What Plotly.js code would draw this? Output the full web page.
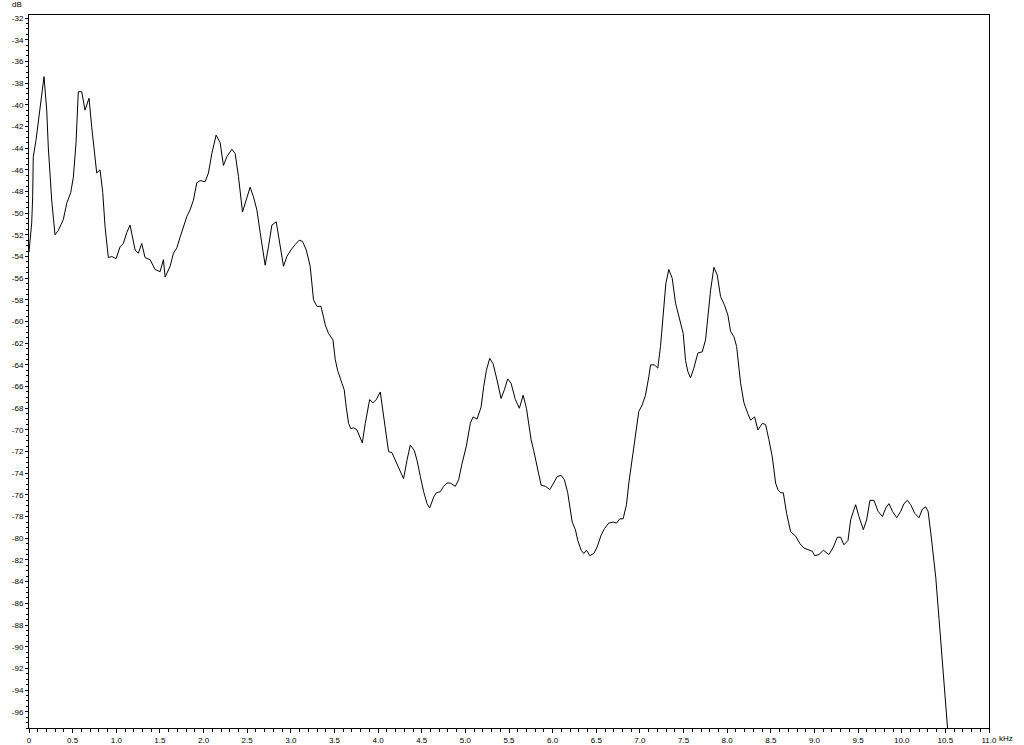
<!DOCTYPE html>
<html>
<head>
<meta charset="utf-8">
<script src="https://cdn.plot.ly/plotly-3.0.1.min.js"></script>
<style>html,body{margin:0;padding:0;background:#fff;}#chart{width:1024px;height:745px;}</style>
</head>
<body>
<div id="chart"></div>
<script>
const freqKHz = [0.000,0.031,0.042,0.049,0.080,0.107,0.134,0.172,0.203,0.221,0.260,0.298,0.336,0.393,0.432,0.478,0.508,0.539,0.565,0.604,0.642,0.688,0.719,0.757,0.776,0.814,0.845,0.872,0.909,0.948,0.998,1.044,1.081,1.120,1.158,1.216,1.253,1.292,1.330,1.388,1.445,1.502,1.540,1.560,1.617,1.655,1.694,1.732,1.769,1.809,1.846,1.884,1.923,1.961,2.018,2.056,2.095,2.144,2.190,2.228,2.267,2.325,2.362,2.400,2.446,2.489,2.534,2.572,2.611,2.649,2.706,2.744,2.783,2.833,2.870,2.916,2.955,3.001,3.050,3.096,3.134,3.177,3.222,3.241,3.260,3.299,3.345,3.375,3.394,3.432,3.483,3.509,3.536,3.586,3.612,3.635,3.662,3.689,3.719,3.758,3.788,3.819,3.853,3.903,3.942,3.979,4.025,4.063,4.094,4.120,4.159,4.217,4.292,4.331,4.369,4.415,4.446,4.484,4.522,4.561,4.591,4.637,4.667,4.713,4.751,4.790,4.828,4.885,4.923,4.962,5.011,5.057,5.088,5.134,5.180,5.210,5.241,5.279,5.318,5.363,5.409,5.447,5.485,5.524,5.573,5.619,5.662,5.700,5.726,5.753,5.783,5.829,5.868,5.917,5.967,6.012,6.052,6.097,6.135,6.173,6.204,6.224,6.261,6.288,6.327,6.357,6.388,6.426,6.472,6.510,6.556,6.594,6.643,6.694,6.732,6.769,6.808,6.846,6.873,6.912,6.950,6.987,7.026,7.064,7.102,7.122,7.167,7.205,7.236,7.267,7.297,7.331,7.370,7.408,7.446,7.496,7.523,7.549,7.580,7.618,7.664,7.714,7.752,7.779,7.810,7.848,7.886,7.924,7.970,8.008,8.039,8.077,8.108,8.154,8.192,8.237,8.268,8.314,8.352,8.403,8.440,8.478,8.517,8.555,8.581,8.612,8.643,8.681,8.727,8.784,8.834,8.880,8.937,8.976,9.002,9.052,9.102,9.148,9.166,9.217,9.262,9.300,9.338,9.384,9.415,9.446,9.472,9.510,9.560,9.598,9.636,9.682,9.728,9.779,9.817,9.854,9.893,9.943,9.989,10.026,10.065,10.103,10.149,10.198,10.237,10.275,10.302,10.333,10.363,10.390,10.428,10.456,10.485,10.524,10.545];
const levelDB = [-53.6,-50.9,-48.5,-44.8,-43.3,-41.4,-39.6,-37.4,-40.5,-43.9,-48.8,-52.0,-51.6,-50.6,-49.1,-48.1,-46.7,-43.5,-38.8,-38.8,-40.5,-39.4,-42.1,-44.8,-46.3,-46.0,-48.1,-51.3,-54.1,-54.0,-54.2,-53.1,-52.8,-51.8,-51.1,-53.4,-53.7,-52.8,-54.1,-54.3,-55.2,-55.4,-54.3,-55.9,-54.9,-53.7,-53.2,-52.2,-51.3,-50.3,-49.7,-48.8,-47.2,-47.0,-47.1,-46.3,-44.5,-42.8,-43.5,-45.6,-44.8,-44.1,-44.5,-46.6,-49.9,-48.8,-47.6,-48.5,-49.7,-51.8,-54.8,-53.1,-51.1,-50.8,-52.5,-54.9,-54.0,-53.4,-52.9,-52.5,-52.6,-53.4,-54.9,-56.8,-58.0,-58.6,-58.6,-59.6,-60.3,-61.1,-61.7,-63.5,-64.5,-65.7,-66.3,-67.9,-69.4,-69.9,-69.8,-70.0,-70.6,-71.2,-69.4,-67.2,-67.5,-67.2,-66.5,-68.6,-70.6,-72.0,-72.1,-73.2,-74.5,-72.8,-71.4,-71.9,-72.8,-74.3,-75.7,-76.8,-77.2,-76.2,-75.8,-75.7,-75.2,-74.9,-74.9,-75.2,-74.6,-73.1,-71.5,-69.4,-68.8,-69.0,-67.9,-66.0,-64.5,-63.4,-63.9,-65.4,-67.1,-66.3,-65.3,-65.7,-67.2,-68.0,-66.8,-68.0,-69.4,-70.9,-71.9,-73.7,-75.1,-75.2,-75.5,-74.9,-74.3,-74.2,-74.6,-75.8,-77.4,-78.5,-79.2,-80.2,-81.1,-81.4,-81.1,-81.6,-81.4,-80.8,-79.7,-79.1,-78.6,-78.5,-78.6,-78.2,-78.2,-76.9,-74.9,-72.5,-70.6,-68.3,-67.7,-66.8,-65.1,-64.0,-64.0,-64.3,-62.3,-58.9,-56.5,-55.2,-56.0,-58.3,-59.6,-61.1,-63.6,-64.6,-65.2,-64.3,-62.9,-62.8,-61.7,-59.6,-57.1,-55.0,-55.7,-57.7,-58.5,-59.4,-60.9,-61.4,-62.3,-65.7,-67.5,-68.5,-69.1,-68.8,-70.0,-69.4,-69.5,-70.9,-72.5,-74.9,-75.5,-75.8,-75.8,-77.7,-79.4,-79.8,-80.5,-80.9,-81.1,-81.2,-81.6,-81.5,-81.1,-81.4,-81.5,-80.8,-79.9,-79.9,-80.6,-80.2,-78.3,-77.5,-76.9,-78.0,-79.2,-78.3,-76.5,-76.5,-77.5,-78.0,-77.2,-76.8,-77.5,-78.1,-77.5,-76.8,-76.5,-76.9,-77.7,-78.1,-77.3,-77.1,-77.5,-79.5,-81.7,-83.6,-87.5,-90.6,-93.9,-97.4,-98.6];

const xTickVals = [0,0.5,1,1.5,2,2.5,3,3.5,4,4.5,5,5.5,6,6.5,7,7.5,8,8.5,9,9.5,10,10.5,11];
const xTickText = ["0","0.5","1.0","1.5","2.0","2.5","3.0","3.5","4.0","4.5","5.0","5.5","6.0","6.5","7.0","7.5","8.0","8.5","9.0","9.5","10.0","10.5","11.0"];
const yTickVals = [-32,-34,-36,-38,-40,-42,-44,-46,-48,-50,-52,-54,-56,-58,-60,-62,-64,-66,-68,-70,-72,-74,-76,-78,-80,-82,-84,-86,-88,-90,-92,-94,-96];
const yTickText = ["-32","-34","-36","-38","-40","-42","-44","-46","-48","-50","-52","-54","-56","-58","-60","-62","-64","-66","-68","-70","-72","-74","-76","-78","-80","-82","-84","-86","-88","-90","-92","-94","-96"];
const xUnit = "kHz";
const yUnit = "dB";

const font = {family: "Liberation Sans, Arial, sans-serif", size: 8, color: "#000"};

const trace = {
  x: freqKHz, y: levelDB, type: "scatter", mode: "lines",
  line: {color: "#000", width: 1}, hoverinfo: "skip"
};

const layout = {
  width: 1024, height: 745,
  margin: {l: 29, r: 35, t: 15, b: 17, pad: 0},
  paper_bgcolor: "#fff", plot_bgcolor: "#fff",
  showlegend: false,
  font: font,
  xaxis: {
    range: [0, 11], showgrid: false, zeroline: false,
    showline: true, linecolor: "#000", linewidth: 1, mirror: true,
    tickmode: "array", tickvals: xTickVals, ticktext: xTickText,
    ticks: "outside", ticklen: 4, tickcolor: "#000", tickwidth: 1,
    tickfont: font,
    minor: {tickmode: "linear", tick0: 0, dtick: 0.1, ticks: "outside", ticklen: 3, tickcolor: "#000", tickwidth: 1, showgrid: false}
  },
  yaxis: {
    range: [-97.5, -31.72], showgrid: false, zeroline: false,
    showline: true, linecolor: "#000", linewidth: 1, mirror: true,
    tickmode: "array", tickvals: yTickVals, ticktext: yTickText,
    ticks: "outside", ticklen: 3, tickcolor: "#000", tickwidth: 1,
    tickfont: font,
    minor: {tickmode: "linear", tick0: -32, dtick: 0.5, ticks: "outside", ticklen: 2, tickcolor: "#000", tickwidth: 1, showgrid: false}
  },
  annotations: [
    {text: xUnit, xref: "x", x: 11, yref: "paper", y: 0, xanchor: "left", yanchor: "top",
     xshift: 8, yshift: -4, showarrow: false, font: font},
    {text: yUnit, xref: "paper", x: 0, yref: "paper", y: 1, xanchor: "right", yanchor: "bottom",
     xshift: -5, yshift: 4, showarrow: false, font: font}
  ]
};

Plotly.newPlot("chart", [trace], layout, {staticPlot: true, displayModeBar: false});
</script>
</body>
</html>
